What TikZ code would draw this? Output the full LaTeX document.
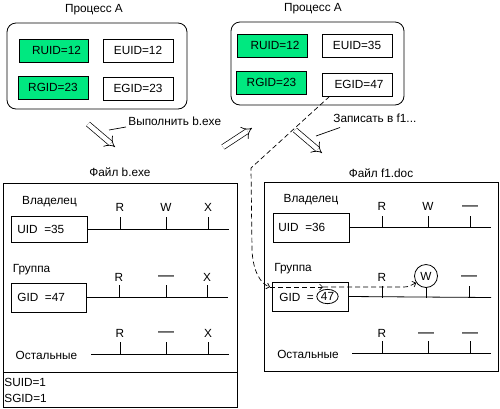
\documentclass[tikz,border=0pt]{standalone}
\usepackage{fontspec}
\setmainfont{Liberation Sans}
\usetikzlibrary{arrows.meta,calc,shapes.geometric}
\definecolor{idgreen}{RGB}{0,232,128}
\begin{document}
\begin{tikzpicture}[x=1pt,y=-1pt,
  font=\fontsize{11.8}{13}\selectfont,
  line width=0.8pt,
  idbox/.style={draw, minimum width=70pt, minimum height=23pt, inner sep=0pt},
  greenbox/.style={idbox, fill=idgreen},
  procbox/.style={draw, rounded corners=9pt, inner sep=0pt},
  permbox/.style={draw, minimum width=76pt, inner sep=0pt},
  lbl/.style={inner sep=0pt},
  dashtxt/.style={inner sep=0pt, font=\fontsize{16}{16}\selectfont},
  hollow/.style={double distance=4.4pt, line width=0.7pt, -{Implies}},
  dashline/.style={line width=0.7pt, dash pattern=on 5pt off 3pt, -{Straight Barb[length=3pt,width=6pt]}},
  leader/.style={line width=0.7pt}]
\useasboundingbox (0,0) rectangle (500,408);
\fill[white] (0,0) rectangle (500,408);

% ---------- Process A (left) ----------
\node[lbl] (t1) at (94,10) {Процесс А};
\node[procbox, minimum width=180pt, minimum height=86pt] (proc1) at (97,66) {};
\node[greenbox, minimum width=69pt] (ruid1) at (53.5,50.5) {\hspace*{6pt}RUID=12};
\node[idbox] (euid1) at (138,50.5) {EUID=12};
\node[greenbox] (rgid1) at (53,87.5) {RGID=23};
\node[idbox] (egid1) at (138,88.5) {EGID=23};

% ---------- Process A (right) ----------
\node[lbl] (t2) at (313,9) {Процесс А};
\node[procbox, minimum width=173pt, minimum height=83pt] (proc2) at (317.5,63.5) {};
\node[greenbox] (ruid2) at (272,45.5) {\hspace*{6pt}RUID=12};
\node[idbox] (euid2) at (357,45.5) {EUID=35};
\node[greenbox] (rgid2) at (271.5,82.5) {RGID=23};
\node[idbox] (egid2) at (357,84.5) {\hspace*{4pt}EGID=47};

% ---------- labels and hollow arrows ----------
\node[lbl, anchor=west] (lab1) at (128,121) {Выполнить b.exe};
\node[lbl, anchor=west] (lab2) at (333,118.5) {Записать в f1...};
\coordinate (l1) at (109,130);
\coordinate (l2) at (316,136);
\draw[leader] (l1) -- ([xshift=-2pt,yshift=-6pt]lab1.west);
\draw[leader] (l2) -- ([xshift=7pt,yshift=-9pt]lab2.west);

\coordinate (a1s) at (88,124);  \coordinate (a1e) at (115,147);
\coordinate (a2s) at (223,147); \coordinate (a2e) at (252,128);
\coordinate (a3s) at (295,130); \coordinate (a3e) at (322,153);
\draw[hollow] (a1s) -- (a1e);
\draw[hollow] (a2s) -- (a2e);
\draw[hollow] (a3s) -- (a3e);

% ---------- File b.exe ----------
\node[lbl] (ft1) at (120,172) {Файл b.exe};
\node[draw, minimum width=234pt, minimum height=224pt, inner sep=0pt] (fileA) at (120,295) {};
\draw (3,372) -- (237,372);
\node[lbl, anchor=west] (suid) at (4,382) {SUID=1};
\node[lbl, anchor=west] (sgid) at (4,398) {SGID=1};

\node[lbl] (ownA) at (49.5,202) {Владелец};
\node[permbox, minimum height=26pt] (uidA) at (49,229.5) {};
\node[lbl, anchor=west] (uidAt) at (17,229.5) {UID\ \ =35};
\draw (uidA.east) -- (229,229.5);
\foreach \x in {120,166,208} \draw (\x,217) -- (\x,229.5);
\node[lbl] (rA1) at (120,207) {R};
\node[lbl] (wA1) at (166,207) {W};
\node[lbl] (xA1) at (208,207) {X};

\node[lbl] (grpA) at (31.5,270) {Группа};
\node[permbox, minimum width=75pt, minimum height=29pt] (gidA) at (48.5,297.5) {};
\node[lbl, anchor=west] (gidAt) at (17,297.5) {GID\ \ =47};
\draw (gidA.east) -- (228,297.5);
\foreach \x in {119,166,207} \draw (\x,285) -- (\x,297.5);
\node[lbl] (rA2) at (119,277) {R};
\node[dashtxt] (wA2) at (166,278) {—};
\node[lbl] (xA2) at (207,277) {X};

\node[lbl] (othA) at (46.5,355) {Остальные};
\coordinate (othAs) at (91,354);
\draw (othAs) -- (229,354);
\foreach \x in {120,166,208} \draw (\x,342) -- (\x,354);
\node[lbl] (rA3) at (120,333) {R};
\node[dashtxt] (wA3) at (166,334) {—};
\node[lbl] (xA3) at (208,333) {X};

% ---------- File f1.doc ----------
\node[lbl] (ft2) at (381,173) {Файл f1.doc};
\node[draw, minimum width=234pt, minimum height=189pt, inner sep=0pt] (fileB) at (381,276.5) {};

\node[lbl] (ownB) at (311,200) {Владелец};
\node[permbox, minimum height=29pt] (uidB) at (311,227.5) {};
\node[lbl, anchor=west] (uidBt) at (278,227) {UID\ \ =36};
\draw (uidB.east) -- (491,227.5);
\foreach \x in {382,428,470} \draw (\x,216) -- (\x,227.5);
\node[lbl] (rB1) at (382,206) {R};
\node[lbl] (wB1) at (428,206) {W};
\node[dashtxt] (xB1) at (470,208) {—};

\node[lbl] (grpB) at (293,269) {Группа};
\node[permbox, minimum height=29pt] (gidB) at (310,296.5) {};
\node[lbl, anchor=west] (gidBt) at (279,297) {GID\ \ =};
\node[draw, ellipse, inner sep=1pt] (c47) at (327.5,296.5) {47};
\draw (gidB.east) -- (491,297.5);
\foreach \x in {382,469} \draw (\x,286) -- (\x,297.5);
\node[lbl] (rB2) at (382,277) {R};
\node[draw, circle, minimum size=23pt, inner sep=0pt] (wc) at (426,276) {W};
\draw (wc.south) -- (426,297.5);
\node[dashtxt] (xB2) at (469,278) {—};

\node[lbl] (othB) at (308,354) {Остальные};
\coordinate (othBs) at (352,353);
\draw (othBs) -- (491,353);
\foreach \x in {382,428,470} \draw (\x,341) -- (\x,353);
\node[lbl] (rB3) at (382,333) {R};
\node[dashtxt] (wB3) at (426,335) {—};
\node[dashtxt] (xB3) at (470,335) {—};

% ---------- dashed path ----------
\coordinate (p0) at ($(egid2.south west)+(8,0)$);
\coordinate (p1) at (251,168);
\coordinate (p2) at (252,250);
\coordinate (p3) at (270,287);
\coordinate (p4) at (323,287);
\coordinate (p5) at (404,287);
\draw[dashline] (p0) -- (p1) -- (p2) .. controls (253,272) and (261,284) .. (p3);
\draw[dashline] (p3) -- (p4);
\draw[dashline] (p4) -- (p5) .. controls (409,287) and (411,285) .. (wc.215);
\end{tikzpicture}
\end{document}
